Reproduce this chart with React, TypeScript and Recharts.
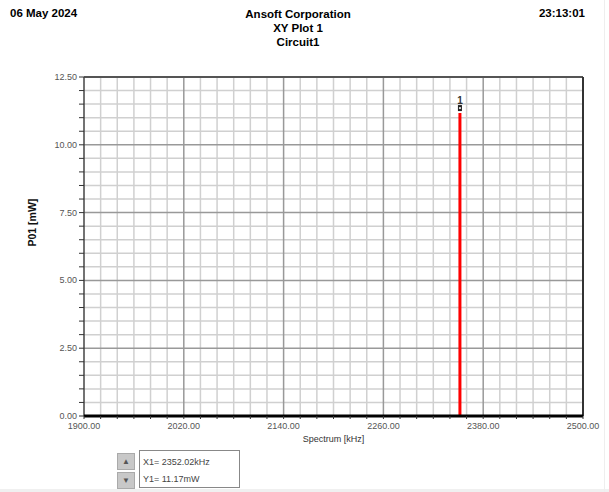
import React from "react";
import {
  LineChart,
  Line,
  XAxis,
  YAxis,
  ReferenceLine,
  ReferenceDot,
} from "recharts";

// spectrum trace (single tone)
const freqs = [2352.02, 2352.02];
const powers = [0, 11.17];

const xMajorTicks = [1900, 2020, 2140, 2260, 2380, 2500];
const yMajorTicks = [0, 2.5, 5, 7.5, 10, 12.5];
const xMinorStep = 20;
const yMinorStep = 0.5;

const markerFreq = 2352.02;
const markerValue = 11.17;

const data = freqs.map((f, i) => ({ f, p: powers[i] }));

const range = (a: number, b: number, step: number) => {
  const out: number[] = [];
  for (let v = a; v <= b + 1e-9; v += step) out.push(Math.round(v * 100) / 100);
  return out;
};

const xMinorTicks = range(1900, 2500, xMinorStep);
const yMinorTicks = range(0, 12.5, yMinorStep);

const FONT = '"Liberation Sans", Arial, sans-serif';

const XTick = (props: any) => {
  const { x, y, payload } = props;
  if (!xMajorTicks.includes(payload.value)) return null;
  return (
    <text x={x} y={y} dy={8} textAnchor="middle" fontSize={9} fill="#555" fontFamily={FONT}>
      {payload.value.toFixed(2)}
    </text>
  );
};

const YTick = (props: any) => {
  const { x, y, payload } = props;
  if (!yMajorTicks.includes(payload.value)) return null;
  return (
    <text x={x} y={y} dy={3} textAnchor="end" fontSize={9} fill="#555" fontFamily={FONT}>
      {payload.value.toFixed(2)}
    </text>
  );
};

const MarkerShape = (props: any) => {
  const { cx, cy } = props;
  return (
    <g>
      <rect x={cx - 2} y={cy - 8} width={4} height={6} fill="#222" />
      <rect x={cx - 1} y={cy - 6} width={2} height={2} fill="#ddd" />
      <text x={cx} y={cy - 9} textAnchor="middle" fontSize={10} fontWeight="bold" fill="#333" fontFamily={FONT}>
        1
      </text>
    </g>
  );
};

const App = () => {
  return (
    <div style={{ position: "absolute", left: 0, top: 0, width: 609, height: 492, background: "#fff", fontFamily: FONT }}>
      <div style={{ position: "absolute", left: 10, top: 7, fontSize: 11.5, fontWeight: "bold" }}>06 May 2024</div>
      <div style={{ position: "absolute", right: 24, top: 7, fontSize: 11.5, fontWeight: "bold" }}>23:13:01</div>
      <div style={{ position: "absolute", left: 148, width: 300, top: 7, fontSize: 11.5, fontWeight: "bold", textAlign: "center", lineHeight: "14px" }}>
        Ansoft Corporation
        <br />
        XY Plot 1
        <br />
        Circuit1
      </div>

      <LineChart width={609} height={492} data={data} margin={{ top: 77, right: 26, left: 0, bottom: 0 }}>
        <XAxis
          dataKey="f"
          type="number"
          domain={[1900, 2500]}
          ticks={xMinorTicks}
          interval={0}
          height={76}
          tick={<XTick />}
          tickSize={3}
          tickLine={{ stroke: "#333" }}
          axisLine={false}
          label={{ value: "Spectrum [kHz]", position: "insideTop", offset: 20, fontSize: 9, fill: "#333", fontFamily: FONT }}
        />
        <YAxis
          type="number"
          domain={[0, 12.5]}
          ticks={yMinorTicks}
          interval={0}
          width={84}
          tick={<YTick />}
          tickSize={5}
          tickLine={{ stroke: "#333" }}
          axisLine={false}
          label={{ value: "P01 [mW]", angle: -90, position: "insideLeft", offset: 32, fontSize: 10.5, fontWeight: "bold", fill: "#111", fontFamily: FONT }}
        />
        {xMinorTicks
          .filter((v) => !xMajorTicks.includes(v))
          .map((v) => (
            <ReferenceLine key={"xm" + v} x={v} stroke="#d0d0d0" strokeWidth={1.5} />
          ))}
        {yMinorTicks
          .filter((v) => !yMajorTicks.includes(v))
          .map((v) => (
            <ReferenceLine key={"ym" + v} y={v} stroke="#d0d0d0" strokeWidth={1.5} />
          ))}
        {xMajorTicks.slice(1, -1).map((v) => (
          <ReferenceLine key={"xM" + v} x={v} stroke="#999" strokeWidth={1.5} />
        ))}
        {yMajorTicks.slice(1, -1).map((v) => (
          <ReferenceLine key={"yM" + v} y={v} stroke="#999" strokeWidth={1.5} />
        ))}
        <ReferenceLine y={12.5} stroke="#555" strokeWidth={2} />
        <ReferenceLine x={2500} stroke="#333" strokeWidth={2} />
        <ReferenceLine x={1900} stroke="#444" strokeWidth={1.5} />
        <Line
          dataKey="p"
          stroke="#ff0000"
          strokeWidth={3}
          dot={false}
          isAnimationActive={false}
        />
        <ReferenceLine y={0} stroke="#000" strokeWidth={3} />
        <ReferenceDot x={markerFreq} y={markerValue} shape={<MarkerShape />} />
      </LineChart>

      {/* marker readout */}
      <div style={{ position: "absolute", left: 117, top: 453, width: 18, height: 17, background: "#c8c8c8", border: "1px solid #aaa", boxSizing: "border-box", fontSize: 8, textAlign: "center", color: "#555", lineHeight: "15px" }}>
        ▲
      </div>
      <div style={{ position: "absolute", left: 117, top: 472, width: 18, height: 17, background: "#c8c8c8", border: "1px solid #aaa", boxSizing: "border-box", fontSize: 8, textAlign: "center", color: "#555", lineHeight: "15px" }}>
        ▼
      </div>
      <div style={{ position: "absolute", left: 139, top: 450, width: 101, height: 38, border: "1px solid #888", boxSizing: "border-box", background: "#fff", fontSize: 9, color: "#444", padding: "3px 0 0 3px", lineHeight: "17px" }}>
        X1= 2352.02kHz
        <br />
        Y1= 11.17mW
      </div>
      <div style={{ position: "absolute", left: 0, top: 489, width: 609, height: 3, background: "#f0f0f0" }} />
      <div style={{ position: "absolute", left: 604, top: 0, width: 1, height: 492, background: "#eee" }} />
    </div>
  );
};

export default App;
